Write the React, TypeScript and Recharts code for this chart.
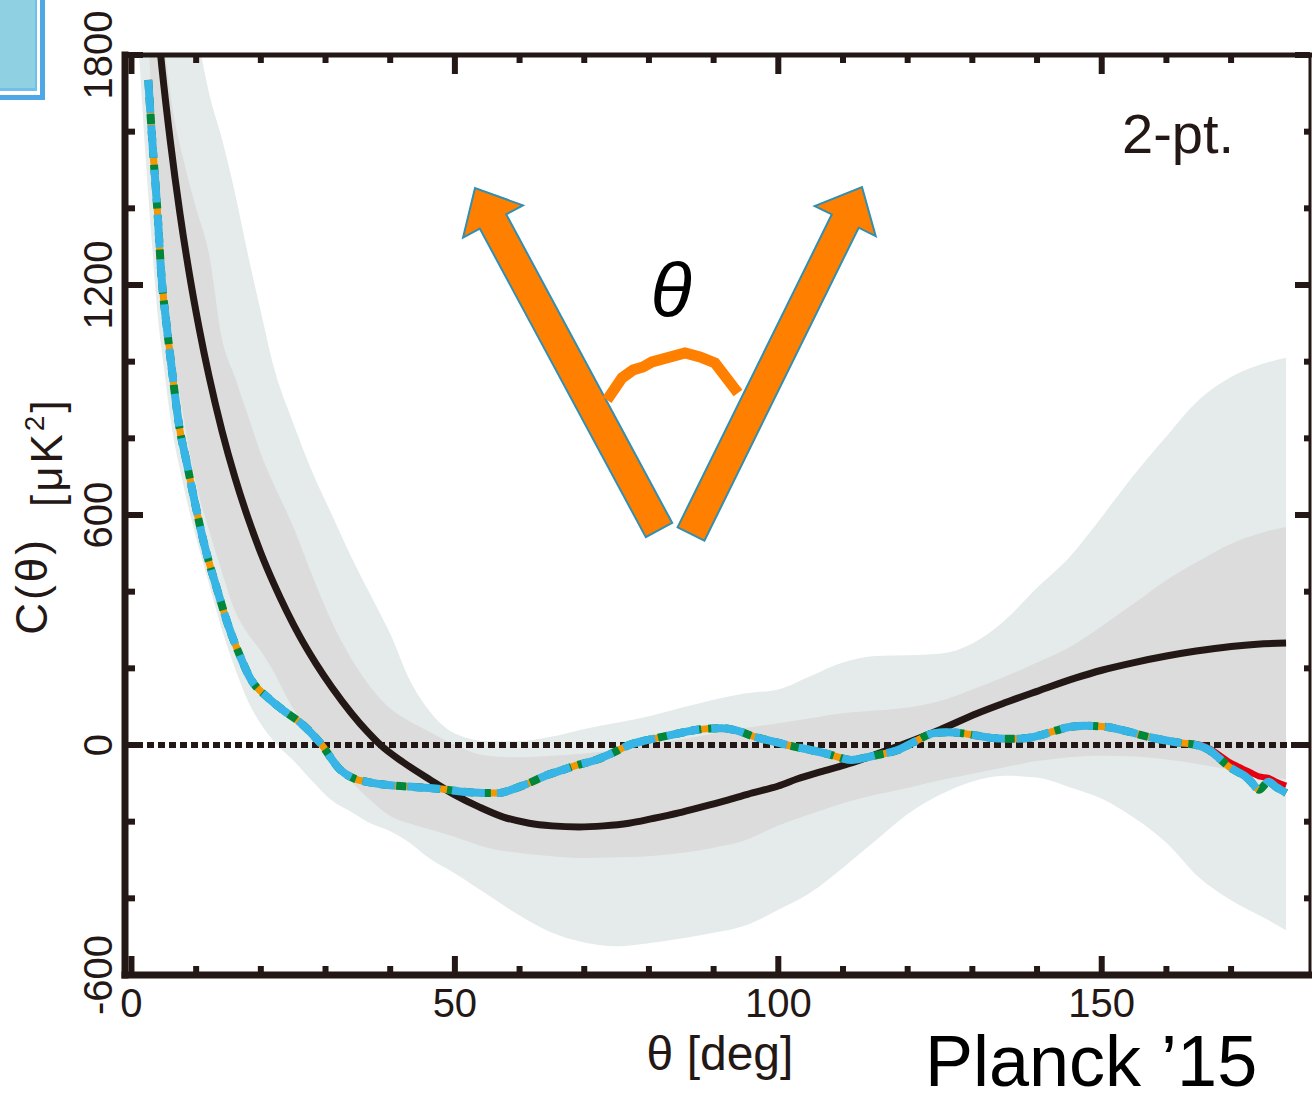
import React from "react";
import { ComposedChart, Area, Line, XAxis, YAxis, ReferenceLine } from "recharts";

const INK = "#231815";
const FONT = "'Liberation Sans', Arial, Helvetica, sans-serif";

// LCDM bands (1 sigma inner, 2 sigma outer), on a shared theta grid
const bandTheta = [1, 2, 3, 4, 5, 6, 8, 10, 12, 14, 16, 18, 20, 22, 25, 28, 31, 34, 37, 40, 43, 46, 50, 55, 60, 65, 70, 75, 80, 85, 90, 95, 100, 105, 110, 115, 120, 125, 130, 135, 140, 145, 150, 155, 160, 165, 170, 175, 178.5];
const outerLow = [1850, 1580, 1345, 1130, 986, 855, 680, 540, 420, 300, 200, 115, 55, 10, -40, -95, -145, -175, -205, -225, -255, -295, -335, -390, -445, -490, -515, -525, -517, -505, -490, -470, -430, -385, -320, -250, -180, -130, -95, -80, -85, -110, -140, -190, -255, -345, -405, -450, -483];
const outerHigh = [3200, 3000, 2800, 2600, 2450, 2300, 2050, 1870, 1700, 1580, 1440, 1280, 1130, 986, 840, 710, 600, 490, 390, 290, 170, 90, 30, 10, 10, 22, 42, 58, 75, 97, 118, 135, 145, 180, 215, 232, 234, 238, 265, 325, 410, 490, 595, 705, 805, 900, 960, 995, 1010];
const innerLow = [2400, 2050, 1720, 1450, 1250, 1090, 860, 680, 560, 450, 350, 290, 245, 190, 95, 30, -40, -95, -145, -185, -205, -220, -240, -268, -282, -290, -295, -293, -290, -282, -268, -248, -210, -180, -152, -130, -112, -92, -75, -58, -42, -32, -28, -30, -38, -50, -65, -80, -90];
const innerHigh = [2900, 2650, 2400, 2100, 1850, 1700, 1530, 1400, 1280, 1060, 960, 860, 760, 680, 570, 440, 320, 225, 150, 95, 62, 35, 0, -28, -32, -28, -22, -12, 3, 15, 30, 45, 57, 70, 83, 90, 98, 115, 145, 178, 215, 255, 310, 370, 430, 480, 525, 555, 569];

// theory curve (black)
const theoryTheta = [3.5, 4.7, 6, 7.5, 9, 10.5, 12, 14, 16, 18, 20, 22, 24, 26, 28.5, 31, 34, 36.5, 38.5, 42, 46.2, 50, 53.8, 57.5, 61.5, 65, 69.2, 73, 76.9, 80.5, 84.6, 88.5, 92.3, 96, 100, 103, 106.5, 110.3, 115, 119, 125, 130.8, 135, 140, 146, 150, 155, 160, 164.6, 170, 174, 178.5];
const theoryC = [1974, 1768, 1576, 1386, 1224, 1084, 961, 819, 698, 593, 501, 421, 349, 284, 213, 150, 83, 34, 0, -45, -91, -130, -162, -188, -204, -211, -214, -211, -204, -192, -177, -160, -143, -125, -107, -88, -70, -52, -25, 0, 40, 83, 110, 140, 175, 195, 215, 232, 245, 257, 263, 266];

// Planck 2015 maps (blue / green / orange share this curve)
const obsTheta = [2.6, 3.1, 4.1, 4.6, 5.4, 6.2, 7.4, 8.5, 9.5, 11.2, 13.4, 15, 16.6, 18.5, 21, 23.5, 26.2, 29.2, 32.3, 34.5, 36.4, 40, 44.1, 48, 51.3, 54.3, 56.9, 59, 61.5, 64, 66.7, 69, 71.8, 74.5, 76.9, 79.5, 82, 84.5, 87.2, 89.5, 91.3, 93.5, 96.4, 99, 102.6, 105, 108, 111.3, 113.5, 115.4, 118.5, 121, 124.1, 126, 128.2, 130.5, 133.3, 136, 138.5, 141, 143, 145, 147.5, 150.8, 154.3, 157, 159.5, 162, 164.6, 166.6, 168.2, 169.7, 171, 172.3, 173.3, 174.3, 175.8, 177, 178.5];
const obsC = [1735, 1605, 1370, 1231, 1100, 986, 830, 740, 657, 527, 397, 310, 240, 170, 125, 90, 57, 5, -65, -88, -96, -105, -110, -115, -122, -125, -125, -115, -99, -80, -65, -52, -39, -20, 0, 12, 21, 30, 39, 43, 44, 38, 21, 10, -5, -13, -25, -39, -33, -26, -13, 8, 31, 33, 31, 25, 18, 16, 18, 28, 38, 47, 50, 47, 34, 22, 13, 6, 0, -13, -35, -57, -70, -83, -100, -117, -96, -110, -125];
// red map departs from the others only at the far end
const redTailTheta = [164.6, 166.6, 168.2, 169.7, 171, 172.3, 173.3, 174.3, 175.8, 177, 178.5];
const redTailC = [3, -8, -26, -44, -55, -66, -74, -82, -86, -96, -106];

const xTicks = [0, 10, 20, 30, 40, 50, 60, 70, 80, 90, 100, 110, 120, 130, 140, 150, 160, 170];
const xLabels = [0, 50, 100, 150];
const yTicks = [-600, -400, -200, 0, 200, 400, 600, 800, 1000, 1200, 1400, 1600, 1800];
const yLabels = [-600, 0, 600, 1200, 1800];

const bandData = bandTheta.map((t, i) => ({
  theta: t,
  outer: [outerLow[i], outerHigh[i]],
  inner: [innerLow[i], innerHigh[i]],
}));
const theoryData = theoryTheta.map((t, i) => ({ theta: t, c: theoryC[i] }));
const obsData = obsTheta.map((t, i) => ({ theta: t, c: obsC[i] }));
const redData = obsData
  .filter((d) => d.theta < 164)
  .concat(redTailTheta.map((t, i) => ({ theta: t, c: redTailC[i] })));

const BottomTick = (props: any) => {
  const { x, y, payload } = props;
  const major = xLabels.includes(payload.value);
  return (
    <g>
      <line x1={x} x2={x} y1={y} y2={y - (major ? 19 : 9)} stroke={INK} strokeWidth={6} />
      {major && (
        <text x={x} y={y + 42} textAnchor="middle" fontSize={40} fontFamily={FONT} fill={INK}>
          {payload.value}
        </text>
      )}
    </g>
  );
};

const TopTick = (props: any) => {
  const { x, y, payload } = props;
  const major = xLabels.includes(payload.value);
  return <line x1={x} x2={x} y1={y} y2={y + (major ? 19 : 8)} stroke={INK} strokeWidth={6} />;
};

const LeftTick = (props: any) => {
  const { x, y, payload } = props;
  const major = yLabels.includes(payload.value);
  return (
    <g>
      <line x1={x} x2={x + (major ? 18 : 10)} y1={y} y2={y} stroke={INK} strokeWidth={6} />
      {major && (
        <text
          x={x - 13}
          y={y}
          transform={`rotate(-90 ${x - 13} ${y})`}
          textAnchor="middle"
          fontSize={40}
          fontFamily={FONT}
          fill={INK}
        >
          {payload.value}
        </text>
      )}
    </g>
  );
};

const RightTick = (props: any) => {
  const { x, y, payload } = props;
  const major = yLabels.includes(payload.value);
  return <line x1={x} x2={x - (major ? 15 : 6)} y1={y} y2={y} stroke={INK} strokeWidth={6} />;
};

// polygon for the block arrows of the inset sketch
function arrowPoints(bx: number, by: number, tx: number, ty: number, shaft: number, headW: number, headL: number) {
  const dx = tx - bx;
  const dy = ty - by;
  const len = Math.hypot(dx, dy);
  const ux = dx / len;
  const uy = dy / len;
  const nx = -uy;
  const ny = ux;
  const p = (s: number, w: number) => `${bx + ux * s + nx * w},${by + uy * s + ny * w}`;
  return [
    p(0, -shaft),
    p(len - headL, -shaft),
    p(len - headL, -headW),
    p(len, 0),
    p(len - headL, headW),
    p(len - headL, shaft),
    p(0, shaft),
  ].join(" ");
}

function Sketch() {
  return (
    <svg
      width={1312}
      height={1102}
      style={{ position: "absolute", left: 0, top: 0, pointerEvents: "none" }}
    >
      {/* slide box in the corner */}
      <rect x={0} y={0} width={45} height={100} fill="#4fa7e6" />
      <rect x={0} y={0} width={40} height={95} fill="#ffffff" />
      <rect x={0} y={0} width={37} height={91} fill="#6fc0ec" />
      <rect x={0} y={0} width={35} height={88} fill="#8fd1e3" />

      <polygon points={arrowPoints(659, 530, 475, 188, 15, 34, 38)} fill="#ff7f00" stroke="#2f8fb4" strokeWidth={2} />
      <polygon points={arrowPoints(691, 534, 862, 187, 15, 34, 38)} fill="#ff7f00" stroke="#2f8fb4" strokeWidth={2} />
      <polyline
        points="607,400 622,378 633,370 643,367 652,362 685,353 700,357 715,363 738,393"
        fill="none"
        stroke="#ff7f00"
        strokeWidth={11}
      />
      <text x={671} y={316} textAnchor="middle" fontSize={76} fontStyle="italic" fontFamily={FONT} fill="#000">
        θ
      </text>

      <text x={1122} y={153} fontSize={56} fontFamily={FONT} fill={INK}>
        2-pt.
      </text>
      <text x={925} y={1086} fontSize={72} fontFamily={FONT} fill="#000">
        Planck ’15
      </text>

      <text x={720} y={1070} textAnchor="middle" fontSize={48} fontFamily={FONT} fill={INK}>
        θ [deg]
      </text>
      <text
        x={47}
        y={516}
        transform="rotate(-90 47 516)"
        textAnchor="middle"
        fontSize={44}
        letterSpacing={3}
        fontFamily={FONT}
        fill={INK}
      >
        <tspan>C(θ)</tspan>
        <tspan dx={30} dy={15}>[μK</tspan>
        <tspan dy={-18} fontSize={28}>2</tspan>
        <tspan dy={18}>]</tspan>
      </text>
    </svg>
  );
}

export default function App() {
  return (
    <div style={{ position: "absolute", left: 0, top: 0, width: 1312, height: 1102, background: "#fff" }}>
      <ComposedChart width={1312} height={1102} data={bandData} margin={{ top: 0, right: 0, bottom: 0, left: 0 }}>
        <XAxis
          dataKey="theta"
          type="number"
          domain={[-1, 182.2]}
          allowDataOverflow
          ticks={xTicks}
          interval={0}
          height={127}
          tickSize={0}
          tickMargin={0}
          tickLine={false}
          axisLine={{ stroke: INK, strokeWidth: 7, strokeLinecap: "square" }}
          tick={(p: any) => <BottomTick {...p} />}
        />
        <XAxis
          xAxisId="top"
          orientation="top"
          dataKey="theta"
          type="number"
          domain={[-1, 182.2]}
          allowDataOverflow
          ticks={xTicks}
          interval={0}
          height={55}
          tickSize={0}
          tickMargin={0}
          tickLine={false}
          axisLine={{ stroke: INK, strokeWidth: 5, strokeLinecap: "square" }}
          tick={(p: any) => <TopTick {...p} />}
        />
        <YAxis
          type="number"
          domain={[-600, 1800]}
          allowDataOverflow
          ticks={yTicks}
          interval={0}
          width={125}
          tickSize={0}
          tickMargin={0}
          tickLine={false}
          axisLine={{ stroke: INK, strokeWidth: 7, strokeLinecap: "square" }}
          tick={(p: any) => <LeftTick {...p} />}
        />
        <YAxis
          yAxisId="right"
          orientation="right"
          type="number"
          domain={[-600, 1800]}
          allowDataOverflow
          ticks={yTicks}
          interval={0}
          width={2}
          tickSize={0}
          tickMargin={0}
          tickLine={false}
          axisLine={{ stroke: INK, strokeWidth: 3 }}
          tick={(p: any) => <RightTick {...p} />}
        />

        <Area dataKey="outer" type="monotone" fill="#e5ebeb" fillOpacity={1} stroke="none" isAnimationActive={false} />
        <Area dataKey="inner" type="monotone" fill="#dcdcdc" fillOpacity={1} stroke="none" isAnimationActive={false} />

        <ReferenceLine y={0} stroke={INK} strokeWidth={6} strokeDasharray="7 4" />

        <Line data={theoryData} dataKey="c" type="monotone" stroke={INK} strokeWidth={7} dot={false} activeDot={false} isAnimationActive={false} />

        <Line data={redData} dataKey="c" type="monotone" stroke="#e60012" strokeWidth={6} dot={false} activeDot={false} isAnimationActive={false} />
        <Line data={obsData} dataKey="c" type="monotone" stroke="#f39800" strokeWidth={7} dot={false} activeDot={false} isAnimationActive={false} />
        <Line data={obsData} dataKey="c" type="monotone" stroke="#00873c" strokeWidth={8} strokeDasharray="10 7" dot={false} activeDot={false} isAnimationActive={false} />
        <Line data={obsData} dataKey="c" type="monotone" stroke="#36b5e6" strokeWidth={8} strokeDasharray="33 12" dot={false} activeDot={false} isAnimationActive={false} />
      </ComposedChart>
      <Sketch />
    </div>
  );
}
